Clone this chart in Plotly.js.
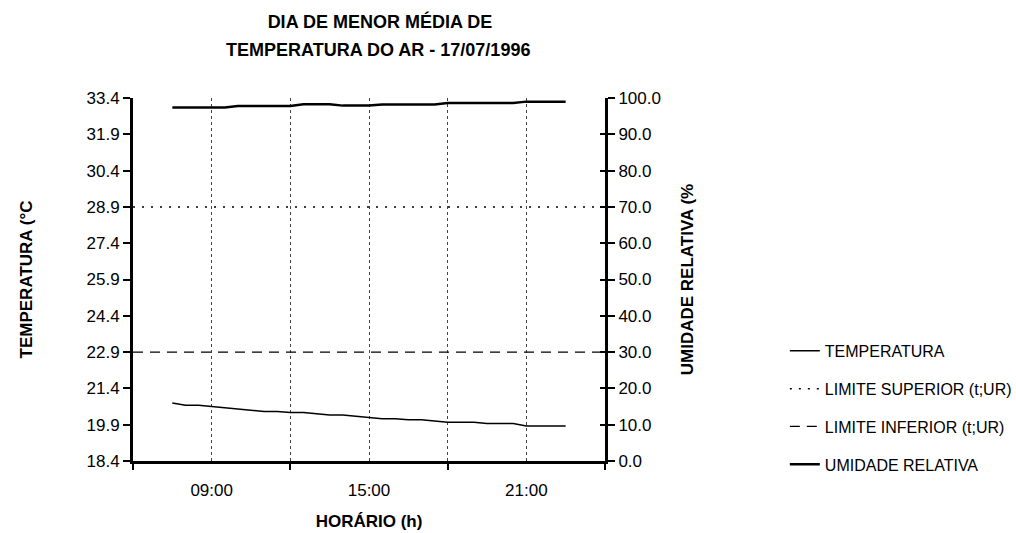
<!DOCTYPE html>
<html>
<head>
<meta charset="utf-8">
<script src="https://cdn.plot.ly/plotly-3.0.1.min.js"></script>
<style>
html,body{margin:0;padding:0;background:#fff;}
#chart{width:1016px;height:533px;}
</style>
</head>
<body>
<div id="chart"></div>
<script>
// ---- data ----
var hours = [7.5, 8, 8.5, 9, 9.5, 10, 10.5, 11, 11.5, 12, 12.5, 13, 13.5, 14, 14.5, 15,
             15.5, 16, 16.5, 17, 17.5, 18, 18.5, 19, 19.5, 20, 20.5, 21, 21.5, 22, 22.5];
var temperatura = [20.8, 20.7, 20.7, 20.65, 20.6, 20.55, 20.5, 20.45, 20.45, 20.4, 20.4, 20.35,
                   20.3, 20.3, 20.25, 20.2, 20.15, 20.15, 20.1, 20.1, 20.05, 20.0, 20.0, 20.0,
                   19.95, 19.95, 19.95, 19.85, 19.85, 19.85, 19.85];
var umidade = [97.4, 97.4, 97.4, 97.4, 97.4, 97.8, 97.8, 97.8, 97.8, 97.8, 98.3, 98.3, 98.3,
               97.9, 97.9, 97.9, 98.2, 98.2, 98.2, 98.2, 98.2, 98.6, 98.6, 98.6, 98.6, 98.6,
               98.6, 99.0, 99.0, 99.0, 99.0];
var limitHours = [6, 24];
var limiteSuperior = [70, 70];
var limiteInferior = [30, 30];

var tempTicks = [18.4, 19.9, 21.4, 22.9, 24.4, 25.9, 27.4, 28.9, 30.4, 31.9, 33.4];
var urTicks = [0, 10, 20, 30, 40, 50, 60, 70, 80, 90, 100];
var timeTickVals = [9, 15, 21];
var timeTickText = ['09:00', '15:00', '21:00'];
var timeMinorVals = [6, 12, 18, 24];
var titleLine1 = 'DIA DE MENOR MÉDIA DE';
var titleLine2 = 'TEMPERATURA DO AR - 17/07/1996';

var FONT = '"Liberation Sans", Arial, sans-serif';

var traces = [
  {x: hours, y: temperatura, name: 'TEMPERATURA', type: 'scatter', mode: 'lines',
   yaxis: 'y', legendgroup: 'a', line: {color: '#000', width: 1.5}},
  {x: limitHours, y: limiteSuperior, name: 'LIMITE SUPERIOR (t;UR)', type: 'scatter', mode: 'lines',
   yaxis: 'y2', legendgroup: 'b', line: {color: '#000', width: 1.5, dash: '2px,7px'}},
  {x: limitHours, y: limiteInferior, name: 'LIMITE INFERIOR (t;UR)', type: 'scatter', mode: 'lines',
   yaxis: 'y2', legendgroup: 'c', line: {color: '#000', width: 1.3, dash: '10px,7px'}},
  {x: hours, y: umidade, name: 'UMIDADE RELATIVA', type: 'scatter', mode: 'lines',
   yaxis: 'y2', legendgroup: 'd', line: {color: '#000', width: 2.5}},
  // carrier for the inner half of the right-hand crossing ticks
  {x: [], y: [], type: 'scatter', mode: 'lines', yaxis: 'y3', showlegend: false, hoverinfo: 'skip'}
];

var layout = {
  width: 1016, height: 533,
  paper_bgcolor: '#fff', plot_bgcolor: '#fff',
  font: {family: FONT, color: '#000', size: 17},
  margin: {l: 133, r: 411, t: 98, b: 72, pad: 0, autoexpand: false},
  showlegend: true,
  title: {
    text: titleLine1,
    font: {family: FONT, size: 18, color: '#000', weight: 'bold'},
    x: 0.374, xanchor: 'center', xref: 'container',
    y: 1 - 22 / 533, yanchor: 'middle', yref: 'container'
  },
  annotations: [{
    text: titleLine2, showarrow: false,
    font: {family: FONT, size: 18, color: '#000', weight: 'bold'},
    xref: 'paper', yref: 'paper', x: (378 - 133) / 472, y: (461 - 50) / 363,
    xanchor: 'center', yanchor: 'middle'
  }],
  xaxis: {
    range: [6, 24], type: 'linear',
    tickmode: 'array', tickvals: timeTickVals, ticktext: timeTickText,
    ticks: 'outside', ticklen: 12, tickcolor: 'rgba(0,0,0,0)',
    tickfont: {size: 17},
    showline: true, linecolor: '#000', linewidth: 3,
    zeroline: false,
    showgrid: true, gridcolor: '#444', griddash: 'dot', gridwidth: 1,
    minor: {tickmode: 'array', tickvals: timeMinorVals, ticks: 'outside', ticklen: 6,
            tickwidth: 2, tickcolor: '#000',
            showgrid: true, gridcolor: '#444', griddash: 'dot', gridwidth: 1},
    title: {text: 'HORÁRIO (h)', font: {size: 17, weight: 'bold'}, standoff: 16},
    automargin: false, fixedrange: true
  },
  yaxis: {
    range: [18.4, 33.4],
    tickmode: 'array', tickvals: tempTicks, ticktext: tempTicks.map(function (v) { return v.toFixed(1); }),
    ticks: 'outside', ticklen: 7, tickwidth: 2, tickcolor: '#000',
    tickfont: {size: 17},
    showline: true, linecolor: '#000', linewidth: 3,
    zeroline: false, showgrid: false,
    title: {text: 'TEMPERATURA (°C', font: {size: 17, weight: 'bold'}, standoff: 50},
    automargin: false, fixedrange: true
  },
  yaxis2: {
    range: [0, 100], overlaying: 'y', side: 'right', anchor: 'x',
    tickmode: 'array', tickvals: urTicks, ticktext: urTicks.map(function (v) { return v.toFixed(1); }),
    ticks: 'outside', ticklen: 7, tickwidth: 2, tickcolor: '#000',
    tickfont: {size: 17},
    showline: true, linecolor: '#000', linewidth: 3,
    zeroline: false, showgrid: false,
    title: {text: 'UMIDADE RELATIVA (%', font: {size: 17, weight: 'bold'}, standoff: 22},
    automargin: false, fixedrange: true
  },
  yaxis3: {
    range: [0, 100], overlaying: 'y', side: 'right', anchor: 'x',
    tickmode: 'array', tickvals: urTicks, showticklabels: false,
    ticks: 'inside', ticklen: 5, tickwidth: 2, tickcolor: '#000',
    showline: false, zeroline: false, showgrid: false,
    automargin: false, fixedrange: true
  },
  legend: {
    x: 1.381, xanchor: 'left', y: 0.35, yanchor: 'top',
    xref: 'paper', yref: 'paper',
    traceorder: 'grouped', tracegroupgap: 14,
    font: {family: FONT, size: 16, color: '#000'},
    bgcolor: 'rgba(0,0,0,0)', borderwidth: 0
  }
};

Plotly.newPlot('chart', traces, layout, {staticPlot: true, displayModeBar: false});
</script>
</body>
</html>
